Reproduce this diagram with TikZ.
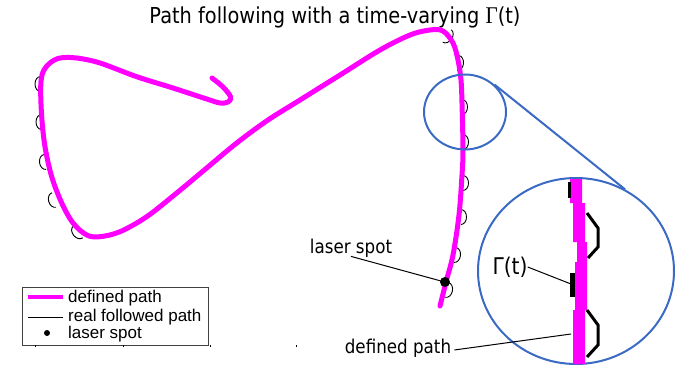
\documentclass[tikz,border=0pt]{standalone}
\usepackage{fontspec}
\usepackage{graphicx}
\setmainfont{DejaVu Sans}
\newfontfamily\legfont{Liberation Sans}
\newfontfamily\grkserif{Liberation Serif}
\usetikzlibrary{shapes.geometric}
\definecolor{mag}{RGB}{255,0,255}
\definecolor{zblue}{RGB}{58,106,196}
\newcommand{\sq}[1]{\scalebox{0.88}[1]{#1}}
\begin{document}
\begin{tikzpicture}[x=1pt,y=-1pt,
  defpath/.style={draw=mag,line width=5pt,line cap=round,line join=round},
  realpath/.style={draw=black,line width=0.9pt},
  zoomring/.style={draw=zblue,line width=2pt,shape=ellipse,inner sep=0pt},
  leader/.style={draw=black,line width=1pt},
  lbl/.style={inner sep=0pt,font=\fontsize{19}{20}\selectfont},
  legtext/.style={inner sep=0pt,anchor=west,font=\legfont\fontsize{17}{18}\selectfont},
  bumpL/.pic={\draw[realpath] (0,-7.5) arc[x radius=5.5,y radius=7.5,start angle=-90,end angle=-270];},
  bumpR/.pic={\draw[realpath] (0,-7.5) arc[x radius=5.5,y radius=7.5,start angle=-90,end angle=90];},
  zbump/.style={draw=black,line width=3pt,line join=miter}
]
\useasboundingbox (0,0) rectangle (686,369);

% title
\node[inner sep=0pt,font=\fontsize{22}{24}\selectfont] (title) at (335,17)
  {\sq{Path following with a time-varying {\grkserif\fontsize{24}{24}\selectfont Γ}(t)}};

% real followed path (mostly hidden under the defined path)
\draw[realpath] plot[smooth,tension=0.55] coordinates {
  (212,78) (223,87) (230.7,97) (228,102) (220,103) (206.7,99) (173,88)
  (136.7,76.7) (100,63) (76.7,58) (60,58) (50,63) (43,72) (40.7,86.7)
  (41.7,116.7) (45,146.7) (51.7,176.7) (61.7,203) (73,223) (86.7,235)
  (100,236.7) (120,231.7) (146.7,216.7) (176.7,193) (206.7,168) (236.7,143)
  (268,120) (300,100) (340,75) (380,50) (410,35) (430,30) (443,31) (453,43)
  (458,60) (461,80) (462,103) (463,150) (462,175) (459,215) (453,255)
  (446,282) (440,306)};
% bumps of the real path
\foreach \p/\r in {(40.5,84)/0,(41.5,122)/0,(45,162)/8,(54,200)/15,(78,232)/40}
  \pic[rotate=\r] at \p {bumpL};
\foreach \p/\r in {(447,36)/-35,(458,63)/-5,(462,107)/0,(463,142)/0,(463,183)/0,(461,217)/0,(455,255)/-8,(447,290)/-12}
  \pic[rotate=\r] at \p {bumpR};

% defined path
\draw[defpath] plot[smooth,tension=0.55] coordinates {
  (212,78) (223,87) (230.7,97) (228,102) (220,103) (206.7,99) (173,88)
  (136.7,76.7) (100,63) (76.7,58) (60,58) (50,63) (43,72) (40.7,86.7)
  (41.7,116.7) (45,146.7) (51.7,176.7) (61.7,203) (73,223) (86.7,235)
  (100,236.7) (120,231.7) (146.7,216.7) (176.7,193) (206.7,168) (236.7,143)
  (268,120) (300,100) (340,75) (380,50) (410,35) (430,30) (443,31) (453,43)
  (458,60) (461,80) (462,103) (463,150) (462,175) (459,215) (453,255)
  (446,282) (440,306)};

% laser spot
\fill (445,282) circle[radius=5];
\coordinate (spot) at (441,281);
\node[lbl] (laserlbl) at (351,248) {\sq{laser spot}};
\draw[leader] ([yshift=1pt]laserlbl.south) -- (spot);

% zoom circles
\node[zoomring,minimum width=82pt,minimum height=75pt] (zs) at (465,112) {};
\node[zoomring,minimum width=196pt,minimum height=186pt] (zb) at (576,271) {};
\draw[zblue,line width=2pt] (zs.43) -- (zb.59);

% magnified view
\fill[mag] (570,179) -- (582,179) -- (582,203) -- (585,203) -- (585,242)
  -- (587,242) -- (587,310) -- (585,310) -- (585,364) -- (573,364)
  -- (573,310) -- (575,310) -- (575,262) -- (577,262) -- (577,242)
  -- (573,242) -- (573,203) -- (570,203) -- cycle;
\draw[zbump] (587,213) -- (598,228) -- (598,247) -- (588,258);
\draw[zbump] (587,310) -- (598,325) -- (598,345) -- (587,357);
\fill (567.5,182) rectangle (570.5,198);
\fill (570,273) rectangle (575,297);
\coordinate (gtip) at (571,284);
\node[lbl,font=\fontsize{23}{24}\selectfont] (gam) at (510,267) {\sq{Γ(t)}};
\draw[leader] (gam.east) -- (gtip);
\coordinate (dptip) at (571,334);
\node[lbl] (dplbl) at (398,348) {\sq{defined path}};
\draw[leader] ([xshift=3pt,yshift=-2pt]dplbl.east) -- (dptip);

% legend
\node[draw=black!75,line width=1pt,minimum width=186pt,minimum height=58pt,inner sep=0pt] (legend) at (115,316) {};
\draw[mag,line width=3.5pt] (28,297) -- (63,297);
\draw[black,line width=0.8pt] (28,317) -- (63,317);
\fill (47,333) circle[radius=3];
\node[legtext] (l1) at (68,298) {defined path};
\node[legtext] (l2) at (68,317) {real followed path};
\node[legtext] (l3) at (68,334) {laser spot};
\foreach \x in {35,123,210,296}
  \draw[black,line width=0.6pt] (\x,345) -- (\x,347);
\end{tikzpicture}
\end{document}
